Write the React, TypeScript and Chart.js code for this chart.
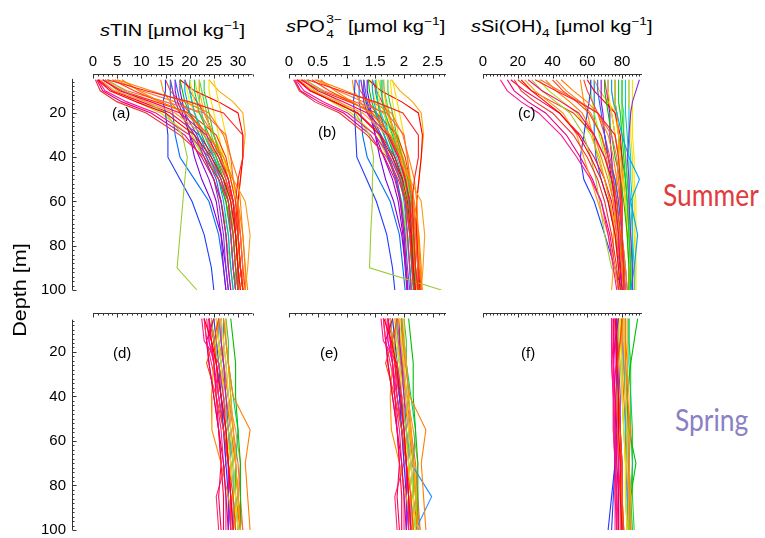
import React, { useEffect, useRef } from 'react';
import { Chart, registerables } from 'chart.js';

Chart.register(...registerables);

// ---------- data ----------
const DEPTH_SUMMER = [5, 10, 15, 20, 30, 40, 50, 60, 75, 90, 100];
const DEPTH_SPRING = [5, 15, 25, 40, 55, 70, 85, 100];
const DEPTH_TICKS = [20, 40, 60, 80, 100];
const TIN_TICKS = [0, 5, 10, 15, 20, 25, 30];
const PO4_TICKS = [0, 0.5, 1, 1.5, 2, 2.5];
const SI_TICKS = [0, 20, 40, 60, 80];

const SUMMER_COLORS = [
  '#ff0000', '#ff2020', '#f03030', '#ff1493', '#ff0066', '#ff7f00', '#ff9a1a', '#ff4500',
  '#9acd32', '#ff6347', '#e6007e', '#ff8000', '#8a2be2', '#1e3cff', '#2060ff', '#00a0ff',
  '#00c000', '#00d050', '#32cd32', '#ffd700', '#e6e600', '#ffb000', '#ff8c00', '#ff0000',
  '#9400d3', '#00ced1', '#ff4040', '#ffa500', '#7fff00', '#ff2a6a',
  '#ff3300', '#ff7a30', '#ff0050', '#b0e000', '#00b050', '#40e040', '#f5e600', '#ffc000',
  '#0070ff', '#00c8c8', '#7b00e0', '#e8ff00',
];

const SUMMER_TIN = [
  [1.0, 3.5, 9, 15, 21, 24.5, 27, 28.5, 29.5, 30, 30.5],
  [3.0, 11, 20, 27, 31, 31, 30, 29.5, 30, 30.5, 31],
  [0.5, 1.5, 5, 11, 18, 23, 26, 28, 29, 29.5, 30],
  [1.0, 2.5, 7, 13, 20, 24, 26.5, 28, 28.5, 29, 29.5],
  [2.0, 5.5, 12, 18, 23.5, 26, 28, 29, 29.5, 30, 30],
  [6.0, 9.5, 14, 19, 24, 27, 29, 30, 31, 31.5, 31.5],
  [1.5, 4.5, 11, 17, 23, 26, 29, 31.5, 32.5, 32, 31.5],
  [4.0, 8.5, 14, 19.5, 24, 26.5, 28, 29, 30, 30.5, 31],
  [3.0, 6.5, 11, 15, 18.5, 19.5, 19, 18.6, 18, 17.4, 21.5],
  [2.5, 7, 15, 23, 27.5, 28.5, 29, 30, 30.5, 31, 31],
  [0.8, 2, 6, 12, 19, 22.5, 25, 26.5, 27.5, 28, 28.5],
  [5.0, 12, 19, 24, 27, 28.5, 30, 30.5, 31, 31.5, 32],
  [16, 16.5, 17, 18, 21, 23, 25, 26, 27, 27.5, 28],
  [15, 15, 14.5, 15, 15.5, 15.5, 18, 20.5, 23, 24.5, 25],
  [17, 17.5, 18, 19, 21.5, 23.5, 25.5, 26.5, 27.5, 28, 28.5],
  [19, 19, 19.5, 20, 22, 24, 26, 27, 28, 28.5, 29],
  [18, 18.5, 19, 20, 22, 24, 26, 27.5, 28.5, 29, 29.5],
  [21, 21, 21.5, 22, 24, 25.5, 27, 28, 29, 29.5, 30],
  [23, 23, 23.5, 24, 25, 26.5, 28, 29, 29.5, 30, 30],
  [25, 25.5, 26, 26.5, 27.5, 28, 29, 29.5, 30, 30, 30.5],
  [20, 20.5, 21, 22, 24, 25.5, 27, 28, 29, 29.5, 30],
  [22, 22, 22.5, 23, 25, 26.5, 28, 29, 29.5, 30, 30.5],
  [14, 14.5, 16, 18, 21, 23.5, 26, 27.5, 29, 29.5, 30],
  [18, 21, 26, 30, 31, 31, 30.5, 30, 30, 30.5, 31],
  [17, 17, 17.5, 18.5, 20, 22, 24, 25.5, 26.5, 27, 27.5],
  [20, 20, 20.5, 21, 23, 25, 27, 28, 28.5, 29, 29.5],
  [15, 16, 18, 20, 23, 25.5, 27.5, 29, 30, 30.5, 31],
  [24, 26, 29, 31, 31.5, 31, 30.5, 30, 30, 30.5, 31],
  [16, 16.5, 17, 18, 20.5, 23, 25, 26.5, 28, 28.5, 29],
  [19, 20, 21.5, 23, 25, 26.5, 28, 29, 29.5, 30, 30.5],
  [2, 6, 13, 20, 25.5, 27.5, 28.5, 29.5, 30.5, 31, 31.5],
  [4.5, 10, 17, 22, 25, 26.5, 27.5, 28.5, 29.5, 30, 30.5],
  [1.2, 4, 10, 16, 22, 25, 27, 29, 30, 30.5, 31],
  [2.5, 5, 9, 14, 20, 23, 25, 26.5, 27.5, 28.5, 29],
  [20, 20, 20.5, 21, 22.5, 24.5, 26.5, 28, 29, 29.5, 30],
  [22, 22.5, 23, 23.5, 24.5, 26, 27.5, 28.5, 29, 29.5, 29.5],
  [24, 24, 24.5, 25, 26, 27, 28, 29, 29.5, 30, 30],
  [21, 21.5, 22, 23, 25, 27, 28.5, 29.5, 30.5, 31, 31],
  [16, 16, 16, 16.5, 17, 18, 21, 24, 26, 27, 27.5],
  [22, 22, 22, 22.5, 23.5, 25, 26.5, 27.5, 28.5, 29, 29.5],
  [18, 18, 18.5, 19, 20, 21, 22.5, 24.5, 26.5, 27.5, 28],
  [19, 19.5, 20, 21, 23, 25, 27, 28.5, 29.5, 30, 30.5],
];

const SUMMER_PO4 = [
  [0.15, 0.38, 0.78, 1.18, 1.58, 1.8, 1.97, 2.06, 2.12, 2.16, 2.2],
  [0.32, 0.9, 1.5, 1.98, 2.25, 2.25, 2.18, 2.14, 2.17, 2.2, 2.25],
  [0.08, 0.18, 0.45, 0.88, 1.36, 1.7, 1.9, 2.03, 2.1, 2.14, 2.17],
  [0.12, 0.26, 0.6, 1.02, 1.5, 1.76, 1.93, 2.02, 2.06, 2.1, 2.12],
  [0.22, 0.5, 0.95, 1.36, 1.72, 1.9, 2.02, 2.1, 2.13, 2.16, 2.18],
  [0.55, 0.8, 1.1, 1.42, 1.76, 1.98, 2.1, 2.18, 2.26, 2.3, 2.3],
  [0.17, 0.42, 0.86, 1.28, 1.7, 1.9, 2.1, 2.3, 2.36, 2.33, 2.3],
  [0.4, 0.7, 1.08, 1.45, 1.75, 1.92, 2.03, 2.1, 2.17, 2.2, 2.24],
  [0.3, 0.55, 0.88, 1.15, 1.4, 1.47, 1.45, 1.45, 1.42, 1.4, 2.65],
  [0.26, 0.6, 1.15, 1.7, 2.0, 2.06, 2.1, 2.16, 2.2, 2.24, 2.24],
  [0.1, 0.2, 0.52, 0.95, 1.42, 1.66, 1.84, 1.94, 2.0, 2.04, 2.07],
  [0.48, 0.98, 1.44, 1.78, 1.98, 2.08, 2.18, 2.22, 2.25, 2.28, 2.32],
  [1.25, 1.28, 1.3, 1.36, 1.58, 1.72, 1.86, 1.93, 2.0, 2.03, 2.06],
  [1.15, 1.14, 1.12, 1.14, 1.16, 1.18, 1.35, 1.52, 1.7, 1.8, 1.84],
  [1.3, 1.33, 1.36, 1.42, 1.6, 1.74, 1.88, 1.95, 2.02, 2.06, 2.1],
  [1.45, 1.45, 1.48, 1.52, 1.66, 1.8, 1.93, 2.0, 2.06, 2.1, 2.13],
  [1.38, 1.4, 1.44, 1.5, 1.65, 1.8, 1.94, 2.04, 2.1, 2.14, 2.17],
  [1.6, 1.6, 1.63, 1.67, 1.8, 1.91, 2.01, 2.08, 2.14, 2.17, 2.2],
  [1.72, 1.72, 1.75, 1.8, 1.87, 1.97, 2.07, 2.13, 2.17, 2.2, 2.2],
  [1.8, 1.84, 1.88, 1.92, 2.0, 2.05, 2.12, 2.16, 2.2, 2.2, 2.24],
  [1.52, 1.55, 1.58, 1.65, 1.78, 1.9, 2.0, 2.06, 2.12, 2.15, 2.18],
  [1.65, 1.65, 1.68, 1.72, 1.85, 1.95, 2.05, 2.12, 2.16, 2.2, 2.23],
  [1.1, 1.13, 1.24, 1.38, 1.58, 1.76, 1.93, 2.04, 2.14, 2.18, 2.2],
  [1.38, 1.6, 1.96, 2.25, 2.32, 2.3, 2.26, 2.22, 2.22, 2.24, 2.28],
  [1.3, 1.3, 1.34, 1.4, 1.5, 1.65, 1.8, 1.9, 1.98, 2.02, 2.05],
  [1.52, 1.52, 1.55, 1.6, 1.74, 1.87, 2.0, 2.08, 2.12, 2.15, 2.18],
  [1.16, 1.24, 1.38, 1.52, 1.74, 1.91, 2.05, 2.15, 2.22, 2.25, 2.28],
  [1.78, 1.93, 2.15, 2.3, 2.34, 2.3, 2.26, 2.22, 2.22, 2.25, 2.28],
  [1.25, 1.28, 1.32, 1.38, 1.56, 1.72, 1.86, 1.96, 2.06, 2.1, 2.13],
  [1.45, 1.52, 1.62, 1.72, 1.86, 1.96, 2.07, 2.14, 2.17, 2.2, 2.23],
  [0.2, 0.55, 1.05, 1.52, 1.88, 2.02, 2.1, 2.16, 2.22, 2.26, 2.3],
  [0.45, 0.85, 1.3, 1.64, 1.84, 1.94, 2.0, 2.08, 2.14, 2.18, 2.2],
  [0.14, 0.36, 0.8, 1.2, 1.6, 1.84, 1.98, 2.12, 2.2, 2.24, 2.26],
  [0.25, 0.45, 0.74, 1.08, 1.5, 1.72, 1.86, 1.96, 2.04, 2.1, 2.14],
  [1.5, 1.5, 1.54, 1.58, 1.7, 1.84, 1.98, 2.08, 2.14, 2.18, 2.2],
  [1.64, 1.66, 1.7, 1.74, 1.82, 1.92, 2.02, 2.1, 2.14, 2.16, 2.17],
  [1.76, 1.78, 1.8, 1.84, 1.9, 1.98, 2.05, 2.12, 2.16, 2.18, 2.2],
  [1.56, 1.6, 1.64, 1.7, 1.84, 1.98, 2.08, 2.16, 2.24, 2.28, 2.28],
  [1.22, 1.22, 1.22, 1.25, 1.28, 1.36, 1.56, 1.76, 1.92, 1.98, 2.02],
  [1.62, 1.62, 1.62, 1.66, 1.73, 1.84, 1.96, 2.02, 2.1, 2.13, 2.16],
  [1.36, 1.36, 1.4, 1.43, 1.5, 1.58, 1.68, 1.82, 1.96, 2.03, 2.06],
  [1.42, 1.46, 1.5, 1.56, 1.7, 1.84, 1.98, 2.08, 2.16, 2.2, 2.23],
];

const SUMMER_SI = [
  [22, 28, 36, 44, 55, 62, 68, 72, 76, 78, 79],
  [30, 42, 55, 66, 76, 78, 79, 79, 80, 81, 81],
  [18, 22, 30, 40, 52, 60, 66, 70, 74, 77, 78],
  [10, 14, 22, 32, 45, 54, 62, 68, 72, 75, 77],
  [26, 34, 45, 55, 64, 70, 74, 76, 78, 79, 80],
  [36, 42, 50, 57, 64, 68, 72, 75, 78, 80, 81],
  [24, 30, 38, 46, 54, 58, 62, 66, 72, 76, 78],
  [40, 46, 54, 61, 68, 72, 75, 77, 79, 80, 81],
  [28, 34, 42, 50, 58, 62, 65, 67, 70, 74, 80],
  [33, 44, 56, 66, 74, 77, 78, 79, 80, 81, 82],
  [14, 18, 26, 36, 48, 56, 63, 68, 73, 76, 78],
  [45, 52, 60, 66, 72, 75, 77, 79, 80, 82, 83],
  [90, 88, 86, 85, 84, 83, 84, 84, 85, 86, 86],
  [62, 62, 61, 60, 58, 56, 58, 64, 70, 76, 80],
  [66, 66, 67, 68, 70, 72, 76, 78, 80, 82, 83],
  [74, 74, 75, 77, 80, 84, 90, 85, 89, 87, 85],
  [70, 70, 71, 72, 74, 76, 79, 81, 83, 84, 84],
  [78, 78, 78, 79, 80, 81, 82, 83, 84, 85, 85],
  [80, 80, 80, 80, 81, 82, 83, 84, 85, 86, 86],
  [84, 84, 84, 85, 85, 86, 86, 87, 87, 88, 88],
  [72, 72, 73, 74, 76, 78, 80, 82, 84, 85, 86],
  [76, 76, 76, 77, 78, 79, 81, 82, 83, 84, 84],
  [56, 57, 58, 60, 63, 66, 70, 73, 76, 78, 79],
  [60, 64, 70, 76, 79, 80, 80, 80, 80, 81, 81],
  [68, 68, 68, 69, 70, 72, 74, 76, 78, 79, 80],
  [82, 82, 82, 82, 83, 84, 84, 85, 86, 87, 87],
  [58, 60, 63, 66, 70, 73, 76, 78, 80, 81, 81],
  [64, 67, 72, 76, 78, 78, 77, 76, 75, 75, 74],
  [62, 62, 63, 64, 67, 70, 73, 76, 79, 80, 81],
  [70, 71, 72, 74, 76, 78, 79, 80, 80, 81, 81],
  [20, 28, 40, 52, 64, 70, 74, 77, 79, 80, 81],
  [42, 48, 56, 62, 68, 71, 73, 75, 77, 79, 80],
  [16, 24, 34, 44, 56, 64, 70, 74, 77, 79, 80],
  [32, 38, 46, 54, 62, 67, 70, 73, 76, 78, 79],
  [76, 76, 76, 77, 78, 80, 82, 83, 84, 85, 85],
  [80, 80, 80, 81, 81, 82, 83, 84, 84, 85, 85],
  [86, 86, 86, 86, 86, 87, 87, 88, 88, 88, 87],
  [74, 74, 75, 76, 78, 80, 81, 82, 83, 84, 84],
  [64, 64, 64, 64, 64, 65, 68, 72, 76, 79, 80],
  [84, 84, 84, 84, 84, 85, 85, 86, 86, 86, 86],
  [72, 72, 72, 73, 73, 74, 75, 77, 79, 81, 82],
  [78, 78, 78, 79, 80, 81, 82, 83, 84, 85, 86],
];

const SPRING_COLORS = [
  '#ff0000', '#ff1493', '#ff0066', '#e00070', '#ff4500', '#ff7f00', '#ff8c00', '#ffa500',
  '#ffd700', '#e6e600', '#9acd32', '#00c000', '#00cd66', '#00bfff', '#1e90ff', '#3030ff',
  '#8a2be2', '#ff3030', '#ff2a6a', '#ff6347', '#ff00cc', '#ff5a00',
  '#ff1a1a', '#ff6600', '#ff2288', '#ffb000', '#32cd32', '#ff3b3b', '#f0d000', '#ff0040',
  '#ff8c40', '#2040ff',
];

const SPRING_TIN = [
  [23, 24.5, 25.5, 26.5, 27.5, 28, 28.5, 29],
  [22.5, 23, 26, 27, 27.5, 28, 28.5, 28.5],
  [24, 24.5, 25, 25.5, 26, 26.5, 26, 26.5],
  [25, 23.5, 24, 25, 26, 27, 27.5, 28],
  [26, 25, 23.5, 25.5, 27, 28, 29, 29.5],
  [27, 27.5, 28, 29, 32.5, 31.5, 32, 32.5],
  [26, 25.5, 25, 24.5, 24.6, 26.5, 28, 29],
  [27.5, 27.5, 28, 28.5, 29, 29.5, 30, 30.5],
  [26.5, 27, 27.5, 28, 28.5, 29, 29.5, 30],
  [25.5, 26, 26.5, 27, 27.5, 28.5, 29, 29.5],
  [24.5, 25, 26, 27, 28, 28.5, 29, 29.5],
  [28.5, 29, 29.5, 29.5, 30, 30.5, 30.5, 30.5],
  [27, 27.5, 28, 29, 30, 29.5, 29.5, 30],
  [26, 26, 26.5, 27, 28, 29, 29.5, 30],
  [27, 27, 27.5, 28, 28.5, 29, 29, 29.5],
  [25, 25.5, 26, 26.5, 27, 27.5, 28, 28],
  [26.5, 26.5, 27, 27.5, 28, 28.5, 29, 29],
  [24, 25, 26, 27, 28, 28.5, 29, 29.5],
  [23, 23.5, 24.5, 26, 27, 27.5, 25.5, 26],
  [25.5, 26, 27, 28, 29, 30, 30.5, 31],
  [24, 24, 25, 26, 27, 28, 28, 28.5],
  [26, 26.5, 27, 28, 28.5, 29, 29.5, 30.5],
  [24.5, 25, 25.5, 26, 27, 28, 28.5, 29],
  [25.5, 26, 26.5, 27.5, 28.5, 29.5, 30, 30.5],
  [23.5, 24, 25, 25.5, 26.5, 27, 27.5, 27.5],
  [26.5, 27, 27, 27.5, 28.5, 29.5, 30, 30],
  [27.5, 28, 28, 28.5, 29, 29.5, 30, 30.5],
  [24, 24.5, 25.5, 26.5, 27.5, 28, 28.5, 28.5],
  [25, 25.5, 26.5, 27, 28, 29, 29.5, 29.5],
  [23, 23.5, 24, 25, 26, 26.5, 27, 27],
  [26, 26.5, 27, 28, 29.5, 30.5, 30, 31],
  [24.5, 25, 25.5, 26.5, 27.5, 28, 28, 28.5],
];

const SPRING_PO4 = [
  [1.65, 1.78, 1.86, 1.94, 2.0, 2.04, 2.08, 2.12],
  [1.6, 1.64, 1.88, 1.96, 2.0, 2.04, 2.08, 2.08],
  [1.72, 1.76, 1.8, 1.84, 1.88, 1.92, 1.88, 1.92],
  [1.8, 1.68, 1.72, 1.8, 1.88, 1.96, 2.0, 2.04],
  [1.88, 1.8, 1.68, 1.84, 1.96, 2.04, 2.12, 2.16],
  [1.96, 1.98, 2.02, 2.1, 2.38, 2.3, 2.34, 2.38],
  [1.88, 1.84, 1.8, 1.76, 1.78, 1.92, 2.04, 2.12],
  [2.0, 2.0, 2.04, 2.08, 2.12, 2.16, 2.2, 2.24],
  [1.92, 1.96, 2.0, 2.04, 2.08, 2.12, 2.16, 2.2],
  [1.84, 1.88, 1.92, 1.96, 2.0, 2.08, 2.12, 2.16],
  [1.76, 1.8, 1.88, 1.96, 2.04, 2.08, 2.12, 2.16],
  [2.08, 2.12, 2.16, 2.16, 2.2, 2.24, 2.24, 2.24],
  [1.96, 2.0, 2.04, 2.12, 2.2, 2.16, 2.16, 2.2],
  [1.88, 1.88, 1.92, 1.96, 2.04, 2.12, 2.16, 2.2],
  [1.96, 1.96, 2.0, 2.04, 2.08, 2.12, 2.48, 2.2],
  [1.8, 1.84, 1.88, 1.92, 1.96, 2.0, 2.04, 2.04],
  [1.92, 1.92, 1.96, 2.0, 2.04, 2.08, 2.12, 2.12],
  [1.72, 1.8, 1.88, 1.96, 2.04, 2.08, 2.12, 2.16],
  [1.64, 1.68, 1.76, 1.88, 1.96, 2.0, 1.84, 1.88],
  [1.84, 1.88, 1.96, 2.04, 2.12, 2.2, 2.24, 2.28],
  [1.72, 1.72, 1.8, 1.88, 1.96, 2.04, 2.04, 2.08],
  [1.88, 1.92, 1.96, 2.04, 2.08, 2.12, 2.16, 2.24],
  [1.76, 1.8, 1.84, 1.88, 1.96, 2.04, 2.08, 2.12],
  [1.86, 1.9, 1.94, 2.0, 2.08, 2.16, 2.2, 2.24],
  [1.68, 1.72, 1.8, 1.84, 1.92, 1.96, 2.0, 2.0],
  [1.94, 1.98, 1.98, 2.02, 2.1, 2.18, 2.22, 2.22],
  [2.0, 2.04, 2.04, 2.08, 2.12, 2.16, 2.2, 2.24],
  [1.72, 1.76, 1.84, 1.92, 2.0, 2.04, 2.08, 2.08],
  [1.8, 1.84, 1.92, 1.96, 2.04, 2.12, 2.16, 2.16],
  [1.64, 1.68, 1.72, 1.8, 1.88, 1.92, 1.96, 1.96],
  [1.9, 1.94, 1.98, 2.06, 2.16, 2.24, 2.2, 2.28],
  [1.76, 1.8, 1.84, 1.92, 2.0, 2.04, 2.04, 2.08],
];

const SPRING_SI = [
  [76, 77, 77, 78, 78, 79, 79, 80],
  [74, 74, 75, 75, 76, 76, 77, 77],
  [75, 75, 75, 76, 76, 76, 77, 77],
  [78, 76, 75, 76, 77, 77, 78, 78],
  [80, 79, 77, 78, 79, 80, 80, 81],
  [82, 82, 82, 83, 85, 84, 84, 85],
  [80, 79, 78, 77, 77, 79, 80, 81],
  [83, 83, 83, 84, 84, 84, 85, 85],
  [81, 81, 82, 82, 83, 83, 84, 84],
  [79, 79, 80, 80, 81, 82, 82, 83],
  [78, 78, 79, 80, 81, 82, 82, 83],
  [89, 87, 85, 83, 84, 88, 85, 84],
  [84, 84, 84, 85, 85, 86, 85, 86],
  [81, 81, 81, 82, 82, 83, 83, 84],
  [82, 82, 82, 83, 83, 84, 84, 84],
  [77, 77, 77, 77, 76, 76, 74, 72],
  [78, 78, 78, 79, 79, 80, 80, 80],
  [77, 77, 78, 78, 79, 80, 80, 81],
  [75, 75, 75, 76, 76, 77, 77, 78],
  [80, 80, 81, 82, 82, 83, 83, 84],
  [76, 76, 76, 77, 77, 78, 78, 78],
  [82, 82, 83, 83, 84, 84, 85, 85],
  [77, 77, 78, 78, 79, 79, 80, 80],
  [80, 80, 80, 81, 82, 82, 83, 83],
  [74, 74, 74, 75, 75, 76, 76, 76],
  [81, 81, 82, 82, 83, 84, 84, 85],
  [84, 84, 85, 85, 86, 86, 86, 87],
  [76, 76, 77, 77, 78, 78, 79, 79],
  [79, 79, 80, 80, 81, 82, 82, 83],
  [74, 74, 74, 75, 75, 76, 76, 77],
  [81, 81, 81, 82, 83, 83, 84, 84],
  [78, 78, 78, 78, 77, 76, 75, 74],
];

// ---------- layout ----------
const FONT = 'Arial, "Liberation Sans", Helvetica, sans-serif';

type Col = { zero: number; right: number; max: number; minor: number; major: number[]; yAxis: boolean };
const COLS: Col[] = [
  { zero: 93, right: 252.5, max: 33, minor: 1, major: TIN_TICKS, yAxis: true },
  { zero: 289, right: 446, max: 2.73, minor: 0.1, major: PO4_TICKS, yAxis: false },
  { zero: 483, right: 642, max: 91.5, minor: 2, major: SI_TICKS, yAxis: false },
];

type Row = { top: number; bottom: number; yMin: number; yStart: number; labels: boolean; depths: number[]; series: number[][][]; colors: string[] };
const ROWS: Row[] = [
  { top: 74, bottom: 290, yMin: 2.4, yStart: 4.6, labels: true, depths: DEPTH_SUMMER, series: [SUMMER_TIN, SUMMER_PO4, SUMMER_SI], colors: SUMMER_COLORS },
  { top: 313, bottom: 530, yMin: 2.5, yStart: 5.5, labels: false, depths: DEPTH_SPRING, series: [SPRING_TIN, SPRING_PO4, SPRING_SI], colors: SPRING_COLORS },
];

const AXIS_H = 34;
const Y_W = 56;
const Y_AXIS_X = 72;
const PAD_SIDE = 14;
const PAD_BOTTOM = 16;

function geometry(row: Row, col: Col) {
  const chartLeft = col.yAxis ? Y_AXIS_X : col.zero;
  const canvasLeft = col.yAxis ? chartLeft - Y_W : chartLeft - PAD_SIDE;
  const padLeft = col.yAxis ? 0 : PAD_SIDE;
  const canvasTop = row.top - AXIS_H;
  const width = Math.ceil(col.right + PAD_SIDE - canvasLeft);
  const padRight = canvasLeft + width - col.right;
  const height = row.bottom + PAD_BOTTOM - canvasTop;
  const xMin = col.yAxis ? -((col.zero - chartLeft) * col.max) / (col.right - col.zero) : 0;
  return { canvasLeft, canvasTop, width, height, padLeft, padRight, xMin };
}

function steps(start: number, end: number, step: number) {
  const out: number[] = [];
  for (let i = 0; start + i * step <= end + 1e-9; i++) out.push(Math.round((start + i * step) * 1000) / 1000);
  return out;
}

const PANELS = ROWS.flatMap((row) => COLS.map((col) => ({ row, col, g: geometry(row, col) })));

function framePlugin(col: Col, row: Row) {
  return {
    id: 'frame',
    afterDraw(chart: any) {
      const { ctx, chartArea } = chart;
      const xs = chart.scales.x;
      const ys = chart.scales.y;
      ctx.save();
      ctx.strokeStyle = '#333';
      ctx.lineWidth = 1;
      ctx.beginPath();
      const yTop = Math.round(chartArea.top) + 0.5;
      ctx.moveTo(Math.round(xs.getPixelForValue(0)), yTop);
      ctx.lineTo(chartArea.right, yTop);
      xs.ticks.forEach((t: any) => {
        const px = Math.round(xs.getPixelForValue(t.value)) + 0.5;
        const len = col.major.includes(t.value) ? 4 : 2;
        ctx.moveTo(px, yTop);
        ctx.lineTo(px, yTop + len);
      });
      if (col.yAxis) {
        const xl = Math.round(chartArea.left) + 0.5;
        ctx.moveTo(xl, ys.getPixelForValue(row.yStart));
        ctx.lineTo(xl, ys.getPixelForValue(100));
        ys.ticks.forEach((t: any) => {
          const py = Math.round(ys.getPixelForValue(t.value)) + 0.5;
          const len = DEPTH_TICKS.includes(t.value) ? 4 : 2;
          ctx.moveTo(xl, py);
          ctx.lineTo(xl + len, py);
        });
      }
      ctx.stroke();
      ctx.restore();
    },
  };
}

function buildConfig(row: Row, col: Col, ci: number, g: ReturnType<typeof geometry>): any {
  const values = row.series[ci];
  const datasets = values.map((vals, i) => ({
    data: vals.map((v, j) => ({ x: v, y: row.depths[j] })),
    borderColor: row.colors[i],
    borderWidth: 1.1,
    pointRadius: 0,
    showLine: true,
    fill: false,
  }));
  const xTicks = steps(0, col.max, col.minor);
  const yTicks = steps(6, 100, 2);
  return {
    type: 'scatter',
    data: { datasets },
    options: {
      animation: false,
      responsive: false,
      maintainAspectRatio: false,
      events: [],
      layout: { padding: { left: g.padLeft, right: g.padRight, top: 0, bottom: PAD_BOTTOM } },
      plugins: { legend: { display: false }, tooltip: { enabled: false } },
      scales: {
        x: {
          type: 'linear',
          position: 'top',
          min: g.xMin,
          max: col.max,
          bounds: 'data',
          grid: { display: false, drawTicks: false },
          border: { display: false },
          ticks: {
            display: row.labels,
            autoSkip: false,
            maxRotation: 0,
            minRotation: 0,
            padding: 3,
            color: '#000',
            font: { family: FONT, size: 15 },
            callback: (v: number) => (col.major.includes(v) ? String(v) : ''),
          },
          afterBuildTicks: (s: any) => {
            s.ticks = xTicks.map((value) => ({ value }));
          },
          afterFit: (s: any) => {
            s.height = AXIS_H;
          },
        },
        y: {
          type: 'linear',
          position: 'left',
          reverse: true,
          min: row.yMin,
          max: 100,
          bounds: 'data',
          display: col.yAxis,
          grid: { display: false, drawTicks: false },
          border: { display: false },
          ticks: {
            autoSkip: false,
            padding: 6,
            color: '#000',
            font: { family: FONT, size: 15 },
            callback: (v: number) => (DEPTH_TICKS.includes(v) ? String(v) : ''),
          },
          afterBuildTicks: (s: any) => {
            s.ticks = yTicks.map((value) => ({ value }));
          },
          afterFit: (s: any) => {
            if (col.yAxis) s.width = Y_W;
          },
        },
      },
    },
    plugins: [framePlugin(col, row)],
  };
}

const PANEL_LABELS = [
  { t: '(a)', x: 112, y: 104 },
  { t: '(b)', x: 318, y: 123 },
  { t: '(c)', x: 518, y: 104 },
  { t: '(d)', x: 113, y: 344 },
  { t: '(e)', x: 320, y: 344 },
  { t: '(f)', x: 521, y: 344 },
];

const supStyle: React.CSSProperties = { fontSize: 11, position: 'relative', top: -7, lineHeight: '1' };
const subStyle: React.CSSProperties = { fontSize: 11, position: 'relative', top: 5, lineHeight: '1' };

function Title({ left, baseline, scale, children }: { left: number; baseline: number; scale: number; children: React.ReactNode }) {
  return (
    <div
      style={{
        position: 'absolute',
        left,
        top: baseline - 14.5,
        font: `16px ${FONT}`,
        lineHeight: '18px',
        whiteSpace: 'nowrap',
        color: '#000',
        transform: `scaleX(${scale})`,
        transformOrigin: 'left top',
      }}
    >
      {children}
    </div>
  );
}

export default function App() {
  const refs = useRef<(HTMLCanvasElement | null)[]>([]);

  useEffect(() => {
    const charts = PANELS.map((p, k) => new Chart(refs.current[k] as HTMLCanvasElement, buildConfig(p.row, p.col, k % 3, p.g)));
    return () => charts.forEach((c) => c.destroy());
  }, []);

  return (
    <div style={{ position: 'fixed', left: 0, top: 0, width: 765, height: 538, background: '#fff', overflow: 'hidden', fontFamily: FONT }}>
      {PANELS.map((p, k) => (
        <canvas
          key={k}
          ref={(el) => {
            refs.current[k] = el;
          }}
          width={p.g.width}
          height={p.g.height}
          style={{ position: 'absolute', left: p.g.canvasLeft, top: p.g.canvasTop, width: p.g.width, height: p.g.height }}
        />
      ))}

      <Title left={100} baseline={36} scale={1.25}>
        <i>s</i>TIN [μmol kg<span style={supStyle}>−1</span>]
      </Title>
      <Title left={286} baseline={32} scale={1.25}>
        <i>s</i>PO
        <span style={{ display: 'inline-block', position: 'relative', width: 14, height: 1 }}>
          <span style={{ position: 'absolute', left: 1, bottom: 7, fontSize: 11, lineHeight: '11px' }}>3−</span>
          <span style={{ position: 'absolute', left: 1, top: -2, fontSize: 11, lineHeight: '11px' }}>4</span>
        </span>{' '}
        [μmol kg<span style={supStyle}>−1</span>]
      </Title>
      <Title left={471} baseline={32} scale={1.25}>
        <i>s</i>Si(OH)<span style={subStyle}>4</span> [μmol kg<span style={supStyle}>−1</span>]
      </Title>

      {PANEL_LABELS.map((l) => (
        <div key={l.t} style={{ position: 'absolute', left: l.x, top: l.y, font: `15px ${FONT}`, lineHeight: '18px', color: '#000' }}>
          {l.t}
        </div>
      ))}

      <div
        style={{
          position: 'absolute',
          left: 21 - 60,
          top: 290 - 11,
          width: 120,
          height: 22,
          lineHeight: '22px',
          textAlign: 'center',
          font: `18px ${FONT}`,
          color: '#000',
          transform: 'rotate(-90deg) scaleX(1.2)',
          transformOrigin: '50% 50%',
          whiteSpace: 'nowrap',
        }}
      >
        Depth [m]
      </div>

      <div style={{ position: 'absolute', left: 663, top: 205 - 28, font: '30px Lato, "Open Sans", sans-serif', lineHeight: '34px', color: '#e23b3b', transform: 'scaleX(0.88)', transformOrigin: 'left top' }}>
        Summer
      </div>
      <div style={{ position: 'absolute', left: 675, top: 430 - 28, font: '30px Lato, "Open Sans", sans-serif', lineHeight: '34px', color: '#8a80c5', transform: 'scaleX(0.88)', transformOrigin: 'left top' }}>
        Spring
      </div>
    </div>
  );
}
